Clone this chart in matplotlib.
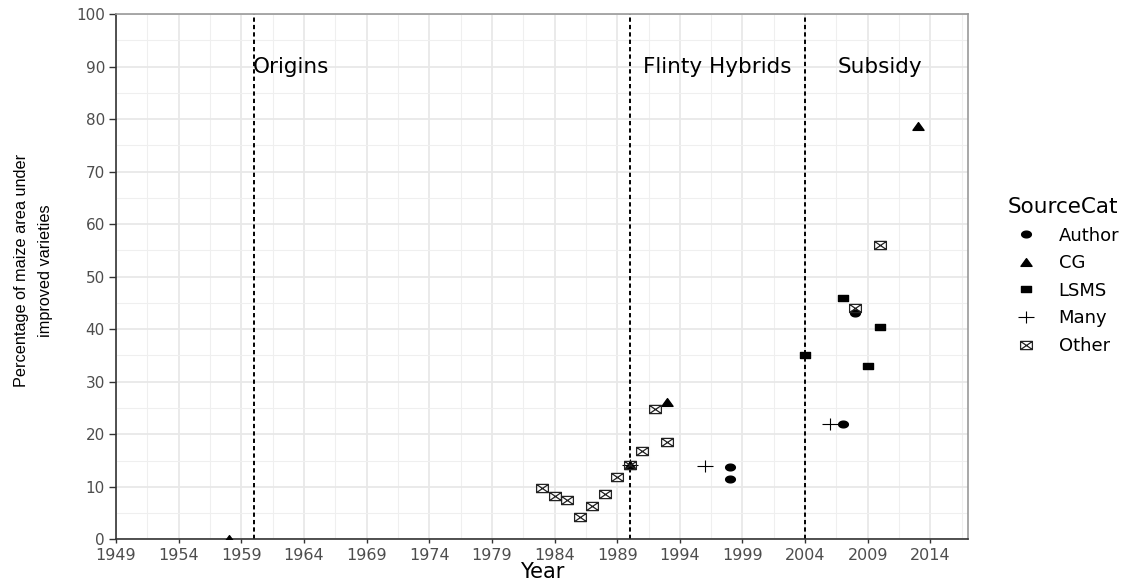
import numpy as np
import matplotlib.pyplot as plt
from matplotlib.path import Path

# data
author_year = [1998, 1998, 2007, 2008]
author_pct = [13.8, 11.4, 22.0, 43.0]

cg_year = [1958, 1990, 1993, 2013]
cg_pct = [0.0, 14.2, 26.1, 78.6]

lsms_year = [2004, 2007, 2009, 2010]
lsms_pct = [35.0, 46.0, 33.0, 40.5]

many_year = [1990, 1996, 2006]
many_pct = [14.2, 13.9, 22.0]

other_year = [1983, 1984, 1985, 1986, 1987, 1988, 1989, 1990, 1991, 1992, 1993, 2008, 2010]
other_pct = [9.7, 8.3, 7.4, 4.3, 6.4, 8.6, 11.9, 14.2, 16.8, 24.9, 18.5, 44.0, 56.0]

phase_starts = [1960, 1990, 2004]
phase_labels = ["Origins", "Flinty Hybrids", "Subsidy"]
phase_label_x = [1963, 1997, 2010]
phase_label_y = 90

# wide marker shapes (the reference is stretched horizontally)
t = np.linspace(0, 2 * np.pi, 40)
ellipse = Path(np.column_stack([1.45 * np.cos(t), np.sin(t)]), closed=True)
triangle = Path([(-0.72, -0.5), (0.72, -0.5), (0, 0.5), (-0.72, -0.5)], closed=True)
rect = Path([(-0.72, -0.5), (0.72, -0.5), (0.72, 0.5), (-0.72, 0.5), (-0.72, -0.5)], closed=True)
plus = Path([(-0.72, 0), (0.72, 0), (0, -0.48), (0, 0.48)],
            [Path.MOVETO, Path.LINETO, Path.MOVETO, Path.LINETO])
boxx = Path([(-0.72, -0.5), (0.72, -0.5), (0.72, 0.5), (-0.72, 0.5), (-0.72, -0.5),
             (0.72, 0.5), (-0.72, 0.5), (0.72, -0.5)],
            [Path.MOVETO, Path.LINETO, Path.LINETO, Path.LINETO, Path.LINETO,
             Path.LINETO, Path.MOVETO, Path.LINETO])

plt.rcParams['font.family'] = ['DejaVu Sans']

fig = plt.figure(figsize=(11.39, 5.82), dpi=100)
ax = fig.add_axes([116 / 1139, 1 - 539.3 / 582, 852 / 1139, 525.3 / 582])

ax.set_xlim(1949, 2017)
ax.set_ylim(0, 100)
ax.set_xticks(np.arange(1949, 2015, 5))
ax.set_xticks(np.arange(1951.5, 2017, 5), minor=True)
ax.set_yticks(np.arange(0, 101, 10))
ax.set_yticks(np.arange(5, 100, 10), minor=True)
ax.grid(which='major', color='#E8E8E8', lw=1.3)
ax.grid(which='minor', color='#EFEFEF', lw=0.8)
ax.set_axisbelow(True)

for s in ['top', 'right']:
    ax.spines[s].set_color('#999999')
    ax.spines[s].set_linewidth(1.2)
for s in ['left', 'bottom']:
    ax.spines[s].set_color('#333333')
    ax.spines[s].set_linewidth(1.2)

ax.tick_params(axis='x', which='major', length=3, width=1, color='#333333',
               labelsize=11.5, labelcolor='#4D4D4D', pad=3.5)
ax.tick_params(axis='y', which='major', length=5, width=1, color='#333333',
               labelsize=11, labelcolor='#4D4D4D', pad=3)
ax.tick_params(which='minor', length=0)

for xv in phase_starts:
    ax.axvline(xv, color='black', lw=1.4, ls=(0, (2.2, 1.6)), zorder=2)
for lab, xv in zip(phase_labels, phase_label_x):
    ax.text(xv, phase_label_y, lab, ha='center', va='center', fontsize=15.5, color='black')

ms = 7
ax.plot(author_year, author_pct, ls='none', marker=ellipse, ms=ms, color='black', label='Author', zorder=3)
ax.plot(cg_year, cg_pct, ls='none', marker=triangle, ms=ms + 1, color='black', label='CG', zorder=3)
ax.plot(lsms_year, lsms_pct, ls='none', marker=rect, ms=ms, color='black', label='LSMS', zorder=3)
ax.plot(many_year, many_pct, ls='none', marker=plus, ms=ms + 5, mfc='none', mec='black', mew=0.8,
        label='Many', zorder=3)
ax.plot(other_year, other_pct, ls='none', marker=boxx, ms=ms + 1.5, mfc='none', mec='#222222', mew=0.9,
        label='Other', zorder=3)

ax.set_xlabel('Year', fontsize=15, labelpad=-1)
ax.set_ylabel('Percentage of maize area under\nimproved varieties', fontsize=11.7,
              family='Liberation Sans', linespacing=1.8, ha='center', va='center')
ax.yaxis.set_label_coords(-0.097, 0.512)

handles, labels = ax.get_legend_handles_labels()
leg = fig.legend(handles, labels, title='SourceCat', loc='upper left',
                 bbox_to_anchor=(1008 / 1139, 1 - 197 / 582), frameon=False,
                 fontsize=13, title_fontsize=15.5, borderpad=0, borderaxespad=0,
                 handlelength=2.0, handletextpad=0.8, labelspacing=0.53, alignment='left')
leg._legend_handle_box.sep = 8

fig.savefig('out.png', dpi=100)
